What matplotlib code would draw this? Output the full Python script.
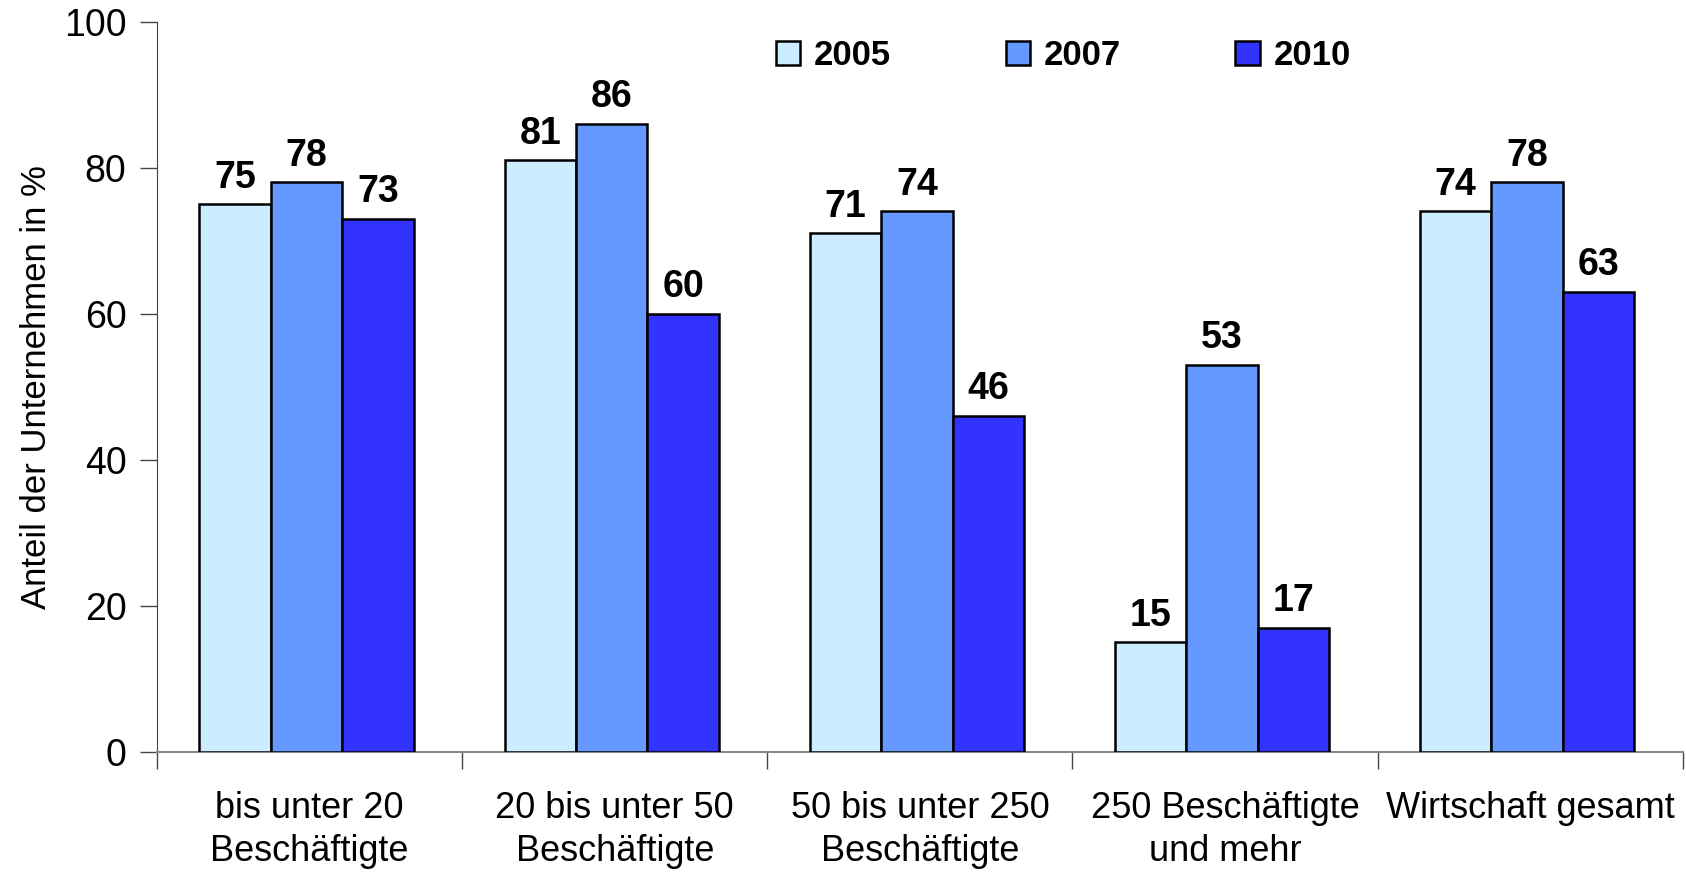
import matplotlib.pyplot as plt
import numpy as np

# data
categories = ["bis unter 20\nBeschäftigte", "20 bis unter 50\nBeschäftigte",
              "50 bis unter 250\nBeschäftigte", "250 Beschäftigte\nund mehr",
              "Wirtschaft gesamt"]
years = ["2005", "2007", "2010"]
val_2005 = [75, 81, 71, 15, 74]
val_2007 = [78, 86, 74, 53, 78]
val_2010 = [73, 60, 46, 17, 63]
colors = ["#CCECFF", "#6699FF", "#3333FF"]

plt.rcParams['font.family'] = ['Liberation Sans', 'DejaVu Sans']

fig = plt.figure(figsize=(16.86, 8.72), dpi=100)
ax = fig.add_axes([0.0931, 0.138, 0.905, 0.8373])

x = np.arange(len(categories))
width = 0.234
series = [val_2005, val_2007, val_2010]
for i, vals in enumerate(series):
    pos = x + (i - 1) * width - 0.01
    bars = ax.bar(pos, vals, width, color=colors[i], edgecolor="black",
                  linewidth=1.8, label=years[i], zorder=3)
    for b, v in zip(bars, vals):
        ax.annotate(str(v), (b.get_x() + b.get_width() / 2, v),
                    xytext=(0, 6), textcoords="offset points",
                    ha="center", va="bottom", fontsize=27, fontweight="bold")

ax.set_xlim(-0.5, len(categories) - 0.5)
ax.set_ylim(0, 100)
ax.set_yticks([0, 20, 40, 60, 80, 100])
ax.tick_params(axis="y", labelsize=27, length=12, width=1, color="#444444", pad=10)
ax.set_xticks(x)
ax.set_xticklabels(categories, fontsize=26, linespacing=1.3)
ax.tick_params(axis="x", which="major", length=0, pad=28)
ax.set_xticks(np.arange(-0.5, len(categories)), minor=True)
ax.tick_params(axis="x", which="minor", length=12, width=1, color="#444444")

ax.spines["top"].set_visible(False)
ax.spines["right"].set_visible(False)
ax.spines["left"].set_color("#444444")
ax.spines["bottom"].set_color("#888888")
ax.spines["bottom"].set_linewidth(1.5)

ax.set_ylabel("Anteil der Unternehmen in %", fontsize=25, labelpad=8)

leg = ax.legend(loc="center", bbox_to_anchor=(0.594, 0.953), ncol=3,
                frameon=False, prop={"size": 25, "weight": "bold"},
                handlelength=0.7, handleheight=0.7, handletextpad=0.4,
                columnspacing=3.3)

fig.savefig("out.png", dpi=100)
